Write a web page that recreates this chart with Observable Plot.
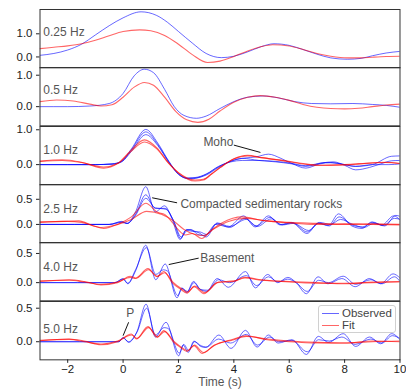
<!DOCTYPE html>
<html><head><meta charset="utf-8">
<script src="https://cdn.jsdelivr.net/npm/d3@7"></script>
<script src="https://cdn.jsdelivr.net/npm/@observablehq/plot@0.6"></script>
<style>
body{margin:0;background:#fff;}
#chart{position:relative;width:406px;height:391px;font-family:"Liberation Sans",Arial,sans-serif;background:#fff;}
#chart svg{position:absolute;left:0;overflow:visible;background:transparent;}
.legend{position:absolute;left:318px;top:305px;width:76px;height:26px;border:1px solid #d0d0d0;border-radius:3px;background:rgba(255,255,255,0.85);font-size:11.5px;color:#444;}
.legend .sw{position:absolute;left:3px;width:17px;height:1px;}
.legend .lb{position:absolute;left:23px;line-height:10.5px;height:10.5px;}
</style></head><body>
<div id="chart"></div>
<script>
// ---- data: [time (s), amplitude] pairs ----
const obs025 = [[-3,0.07],[-2.5,0.15],[-2,0.3],[-1.5,0.55],[-1,0.95],[-0.5,1.35],[0,1.69],[0.65,1.95],[1.2,1.8],[1.6,1.5],[2,1.1],[2.5,0.6],[3,0.15],[3.55,-0.03],[4,0.03],[4.5,0.22],[5,0.45],[5.45,0.57],[6,0.5],[6.5,0.32],[7,0.12],[7.5,-0.04],[8.1,-0.1],[8.6,-0.06],[9,0.05],[9.5,0.17],[10,0.24]];
const fit025 = [[-3,0.36],[-2.5,0.42],[-2,0.48],[-1.5,0.57],[-1,0.72],[-0.5,0.92],[0,1.1],[0.6,1.17],[1,1.13],[1.5,0.93],[2,0.55],[2.5,0.1],[3.05,-0.24],[3.5,-0.18],[4,0.02],[4.5,0.26],[5,0.45],[5.4,0.53],[6,0.47],[6.5,0.32],[7,0.15],[7.5,0.03],[8.1,-0.04],[8.6,-0.04],[9,-0.01],[9.5,0.02],[10,0.03]];

const obs05 = [[-3,0],[-2,0],[-1.2,0.02],[-0.5,0.1],[0,0.42],[0.4,0.98],[0.77,1.19],[1.1,1.08],[1.5,0.55],[1.85,0.0],[2.2,-0.28],[2.65,-0.37],[3,-0.3],[3.5,-0.06],[4,0.16],[4.5,0.3],[5.05,0.34],[5.6,0.28],[6.2,0.16],[6.8,0.1],[7.5,0.09],[8.3,0.1],[9,0.07],[9.5,0.04],[10,-0.02]];
const fit05 = [[-3,0.16],[-2.4,0.21],[-1.8,0.18],[-1.2,0.08],[-0.8,0.02],[-0.4,0.06],[0,0.3],[0.4,0.62],[0.77,0.77],[1.1,0.68],[1.5,0.3],[1.9,-0.15],[2.3,-0.42],[2.7,-0.5],[3.1,-0.4],[3.5,-0.14],[4,0.14],[4.5,0.3],[4.95,0.35],[5.5,0.3],[6,0.2],[6.5,0.07],[7,-0.02],[7.5,-0.06],[8,-0.07],[8.5,-0.05],[9,0.0],[9.5,0.05],[10,0.08]];

const obs10a = [[-3,0],[-1,0],[-0.4,0.02],[-0.05,0.1],[0.3,0.45],[0.82,1.01],[1.25,0.62],[1.65,0.1],[2.0,-0.27],[2.4,-0.41],[2.7,-0.38],[3.0,-0.3],[3.45,-0.08],[3.9,0.1],[4.4,0.19],[4.8,0.22],[5.25,0.3],[5.7,0.18],[6.1,0.03],[6.6,-0.1],[7.1,0.02],[7.5,0.06],[8.0,0.0],[8.4,-0.05],[9.0,0.0],[9.7,0.24],[10,0.25]];
const obs10b = [[-3,0],[-1,0],[-0.4,0.02],[-0.05,0.09],[0.3,0.42],[0.82,0.94],[1.25,0.58],[1.65,0.08],[2.0,-0.28],[2.35,-0.4],[2.65,-0.38],[3.0,-0.28],[3.45,-0.06],[3.9,0.1],[4.3,0.18],[4.9,0.12],[5.5,0.08],[6.1,0.02],[6.6,-0.05],[7.2,0.05],[7.6,0.08],[8.0,-0.02],[8.4,-0.15],[8.9,-0.08],[9.3,0.02],[9.7,0.11],[10,0.12]];
const obs10c = [[-3,0],[-1,0],[-0.4,0.01],[-0.05,0.08],[0.3,0.38],[0.82,0.86],[1.25,0.55],[1.65,0.07],[2.0,-0.27],[2.3,-0.38],[2.6,-0.37],[3.0,-0.27],[3.45,-0.05],[3.9,0.08],[4.3,0.12],[4.8,0.12],[5.4,0.1],[6.0,0.05],[6.6,-0.03],[7.3,0.06],[7.8,0.03],[8.4,-0.05],[9.0,0.0],[9.6,0.0],[10,0.02]];
const fit10a = [[-3,0.1],[-2.2,0.14],[-1.5,0.07],[-0.7,-0.1],[-0.2,0.03],[0.25,0.38],[0.77,0.71],[1.22,0.48],[1.64,0.05],[2.0,-0.24],[2.6,-0.47],[2.9,-0.44],[3.2,-0.27],[3.52,-0.08],[4.0,0.17],[4.5,0.27],[5.0,0.2],[5.86,0.11],[6.5,0.03],[7.06,-0.02],[8.0,-0.01],[8.5,0.02],[9.47,0.07],[10,0.03]];
const fit10b = [[-3,0.09],[-2.2,0.12],[-1.5,0.06],[-0.7,-0.07],[-0.2,0.03],[0.25,0.35],[0.77,0.65],[1.22,0.45],[1.64,0.04],[2.0,-0.23],[2.6,-0.44],[2.9,-0.42],[3.2,-0.26],[3.52,-0.07],[4.0,0.16],[4.5,0.25],[5.0,0.2],[5.86,0.1],[6.5,0.02],[7.06,-0.02],[8.0,0.0],[8.5,0.02],[9.47,0.06],[10,0.03]];

const obs25a = [[-3,0],[-0.5,0],[-0.05,0.06],[0.15,0.02],[0.45,0.25],[0.82,0.75],[1.16,0.25],[1.5,0.37],[1.76,0.12],[2.06,-0.3],[2.25,-0.12],[2.45,-0.1],[2.7,-0.2],[2.95,-0.22],[3.35,0.0],[3.8,-0.05],[4.35,0.17],[4.77,-0.05],[5.25,0.17],[5.67,-0.01],[6.1,0.03],[6.64,-0.18],[7.06,0.03],[7.42,-0.02],[7.78,0.21],[8.26,-0.03],[8.63,-0.08],[8.99,0.05],[9.35,-0.01],[9.77,0.17],[10,0.09]];
const obs25b = [[-3,0],[-0.5,0],[-0.05,0.05],[0.15,0.02],[0.45,0.2],[0.82,0.59],[1.16,0.32],[1.52,0.32],[1.8,0.1],[2.08,-0.28],[2.3,-0.1],[2.5,-0.12],[2.75,-0.17],[3.0,-0.25],[3.4,0.02],[3.85,-0.06],[4.4,0.12],[4.8,-0.03],[5.3,0.14],[5.7,0.0],[6.1,0.04],[6.65,-0.15],[7.05,0.02],[7.45,-0.03],[7.8,0.15],[8.3,-0.02],[8.65,-0.05],[9.0,0.04],[9.4,-0.02],[9.8,0.12],[10,0.1]];
const obs25c = [[-3,0],[-0.5,0],[-0.05,0.04],[0.15,0.02],[0.45,0.18],[0.82,0.52],[1.16,0.33],[1.55,0.3],[1.82,0.08],[2.1,-0.25],[2.32,-0.12],[2.52,-0.14],[2.78,-0.15],[3.02,-0.2],[3.4,0.03],[3.85,-0.04],[4.45,0.1],[4.85,-0.04],[5.35,0.11],[5.75,-0.01],[6.15,0.02],[6.7,-0.12],[7.1,0.04],[7.5,0.0],[7.85,0.1],[8.3,0.0],[8.7,-0.06],[9.05,0.02],[9.45,-0.03],[9.85,0.18],[10,0.16]];
const fit25a = [[-3,0.05],[-2.2,0.06],[-1.6,0.07],[-1.1,-0.02],[-0.7,-0.08],[-0.2,0.0],[0.3,0.15],[0.82,0.42],[1.25,0.24],[1.5,0.2],[1.76,0.05],[2.0,-0.11],[2.25,-0.21],[2.5,-0.18],[2.84,-0.28],[3.2,-0.11],[3.6,0.04],[4.3,0.15],[5.0,0.08],[6.0,0.04],[7.0,0.02],[8,0.0],[9,0.01],[10,0.0]];
const fit25b = [[-3,0.04],[-2.0,0.06],[-1.5,0.04],[-0.8,-0.06],[-0.2,0.0],[0.3,0.1],[0.85,0.26],[1.4,0.2],[1.8,0.08],[2.2,-0.1],[2.6,-0.2],[2.9,-0.22],[3.3,-0.08],[3.8,0.06],[4.4,0.12],[5.2,0.07],[6,0.03],[7,0.0],[8,0.01],[9,0.0],[10,-0.01]];

const obs40a = [[-3,0],[-0.3,0],[0.0,0.07],[0.17,-0.02],[0.45,0.2],[0.82,0.64],[1.18,0.05],[1.52,0.32],[1.95,-0.26],[2.12,-0.09],[2.3,-0.17],[2.54,0.02],[2.78,-0.11],[3.02,-0.15],[3.4,0.07],[3.8,-0.08],[4.42,0.19],[4.78,-0.09],[5.22,0.14],[5.58,0.0],[5.95,0.09],[6.25,0.0],[6.62,-0.19],[7.04,0.1],[7.4,-0.02],[7.9,0.07],[8.38,-0.07],[8.9,0.07],[9.3,-0.02],[9.75,0.15],[10,0.08]];
const obs40b = [[-3,0],[-0.3,0],[0.0,0.06],[0.17,-0.01],[0.45,0.22],[0.84,0.6],[1.18,0.14],[1.45,0.22],[1.6,0.2],[1.97,-0.22],[2.14,-0.1],[2.32,-0.15],[2.56,0.0],[2.8,-0.12],[3.05,-0.13],[3.45,0.05],[3.85,0.0],[4.45,0.12],[4.82,-0.05],[5.25,0.1],[5.6,0.01],[5.95,0.06],[6.25,0.0],[6.65,-0.15],[7.06,0.04],[7.42,0.0],[7.95,0.11],[8.4,-0.03],[8.95,0.05],[9.35,-0.02],[9.8,0.1],[10,0.02]];
const fit40a = [[-3,0.02],[-1.95,0.05],[-1.4,0.02],[-0.8,-0.04],[-0.2,0.0],[0.26,0.11],[0.45,0.08],[0.9,0.24],[1.23,0.1],[1.47,0.19],[1.77,0.0],[2.07,-0.11],[2.31,-0.18],[2.56,-0.07],[2.92,-0.19],[3.4,0.0],[4.0,0.02],[4.38,0.09],[5.0,0.05],[6.0,0.01],[7,-0.01],[8,-0.01],[9,0.0],[10,0.01]];
const fit40b = [[-3,0.03],[-1.95,0.04],[-1.4,0.01],[-0.8,-0.03],[-0.2,0.01],[0.26,0.09],[0.45,0.07],[0.92,0.22],[1.23,0.11],[1.5,0.17],[1.8,0.01],[2.1,-0.1],[2.33,-0.16],[2.58,-0.06],[2.95,-0.17],[3.45,0.01],[4.0,0.03],[4.42,0.08],[5.0,0.04],[6.0,0.02],[7,0.0],[8,-0.02],[9,0.01],[10,0.02]];

const obs50a = [[-3,0],[-0.15,0],[0.0,0.065],[0.2,-0.01],[0.5,0.15],[0.83,0.56],[1.17,0.07],[1.55,0.29],[2.01,-0.21],[2.17,-0.05],[2.35,-0.16],[2.56,0.01],[2.8,-0.07],[2.98,-0.085],[3.46,0.1],[3.9,-0.1],[4.42,0.17],[4.84,-0.08],[5.25,0.1],[5.6,-0.02],[6.1,0.03],[6.62,-0.19],[7.05,0.08],[7.42,-0.01],[7.95,0.12],[8.4,-0.07],[8.9,0.07],[9.3,-0.03],[9.7,0.12],[10,0.03]];
const obs50b = [[-3,0],[-0.15,0],[0.0,0.055],[0.2,0.0],[0.5,0.14],[0.85,0.5],[1.17,0.1],[1.48,0.21],[1.62,0.2],[2.03,-0.17],[2.19,-0.04],[2.37,-0.13],[2.58,0.0],[2.82,-0.06],[3.0,-0.08],[3.45,0.04],[3.88,-0.02],[4.45,0.11],[4.85,-0.05],[5.3,0.07],[5.62,0.0],[6.1,0.02],[6.65,-0.15],[7.06,0.03],[7.45,0.01],[7.9,0.07],[8.38,-0.04],[8.95,0.04],[9.35,-0.02],[9.72,0.09],[10,0.05]];
const fit50a = [[-3,0.015],[-1.95,0.04],[-1.4,0.01],[-0.8,-0.045],[-0.2,0.0],[0.3,0.115],[0.48,0.04],[0.9,0.225],[1.23,0.065],[1.47,0.165],[1.83,-0.01],[2.07,-0.085],[2.31,-0.145],[2.56,-0.06],[2.86,-0.175],[3.28,-0.06],[4.0,0.04],[4.42,0.09],[5.2,0.03],[6,0.0],[7,-0.02],[8,-0.02],[9,0.0],[10,0.01]];
const fit50b = [[-3,0.02],[-1.95,0.035],[-1.4,0.0],[-0.8,-0.035],[-0.2,0.01],[0.32,0.1],[0.5,0.05],[0.92,0.21],[1.25,0.075],[1.5,0.15],[1.85,0.0],[2.1,-0.08],[2.33,-0.13],[2.58,-0.05],[2.9,-0.16],[3.3,-0.05],[4.0,0.03],[4.45,0.08],[5.2,0.04],[6,0.01],[7,-0.01],[8,-0.02],[9,0.01],[10,0.0]];

const bandLabels = ["0.25 Hz","0.5 Hz","1.0 Hz","2.5 Hz","4.0 Hz","5.0 Hz"];
const yTickValues = [[0,1],[0,1],[0,1],[0,0.5],[0,0.5],[0,0.5]];
const xTickValues = [-2,0,2,4,6,8,10];
const legendLabels = ["Observed","Fit"];
const notes = [
  {panel:2, text:"Moho", tx:2.9, ty:0.64, x1:4.0, y1:0.56, x2:4.96, y2:0.35},
  {panel:3, text:"Compacted sedimentary rocks", tx:2.07, ty:0.41, x1:1.95, y1:0.43, x2:1.05, y2:0.53},
  {panel:4, text:"Basement", tx:2.79, ty:0.42, x1:2.73, y1:0.42, x2:1.65, y2:0.31},
  {panel:5, text:"P", tx:0.26, ty:0.42, x1:0.2, y1:0.29, x2:0.0, y2:0.09, anchor:"middle"}
];

// ---- layout ----
const panels = [
  {obs:[obs025], fit:[fit025], y:[-0.47,2.05], ly:1.07},
  {obs:[obs05], fit:[fit05], y:[-0.61,1.245], ly:0.53},
  {obs:[obs10a,obs10b,obs10c], fit:[fit10a,fit10b], y:[-0.58,1.094], ly:0.42},
  {obs:[obs25a,obs25b,obs25c], fit:[fit25a,fit25b], y:[-0.366,0.794], ly:0.31},
  {obs:[obs40a,obs40b], fit:[fit40a,fit40b], y:[-0.312,0.688], ly:0.26},
  {obs:[obs50a,obs50b], fit:[fit50a,fit50b], y:[-0.27,0.60], ly:0.19}
];
const chart = document.getElementById("chart");
const top0 = 9, ph = 58.33;
const toRows = (traces, k) => traces.flatMap((tr, j) => tr.map(([t, v]) => ({t, v, s: k + j})));
const minus = d => d < 0 ? "\u2212" + (-d) : String(d);

panels.forEach((p, i) => {
  const last = i === panels.length - 1;
  const mt = 1, mb = last ? 33 : 1;
  const marks = [
    Plot.line(toRows(p.obs, "o"), {x: "t", y: "v", z: "s", stroke: "blue", strokeOpacity: 0.6, strokeWidth: 1, curve: "monotone-x", clip: true}),
    Plot.line(toRows(p.fit, "f"), {x: "t", y: "v", z: "s", stroke: "red", strokeOpacity: 0.6, strokeWidth: 1.1, curve: "monotone-x", clip: true}),
    Plot.axisY(yTickValues[i], {tickSize: 3.5, tickPadding: 4, tickFormat: d3.format(".1f"), fontSize: 11.5, label: null, fill: "#222", stroke: "#222"}),
    Plot.text([{t: -2.88, v: p.ly, s: bandLabels[i]}], {x: "t", y: "v", text: "s", textAnchor: "start", fontSize: 12, fill: "#555"}),
    Plot.frame({stroke: "#333", strokeWidth: 1})
  ];
  notes.filter(n => n.panel === i).forEach(n => {
    marks.push(Plot.link([n], {x1: "x1", y1: "y1", x2: "x2", y2: "y2", stroke: "#111", strokeWidth: 1}));
    marks.push(Plot.text([n], {x: "tx", y: "ty", text: "text", textAnchor: n.anchor || "start", fontSize: 12, fill: "#555"}));
  });
  if (last) {
    marks.push(Plot.axisX(xTickValues, {tickSize: 3.5, tickPadding: 1.5, tickFormat: minus, fontSize: 11.5, label: null, fill: "#222", stroke: "#222"}));
    marks.push(Plot.text(["Time (s)"], {frameAnchor: "bottom", dy: 26, fontSize: 12, fill: "#555"}));
  }
  const svg = Plot.plot({
    width: 406, height: ph + mt + mb,
    marginLeft: 39.5, marginRight: 6.5, marginTop: mt, marginBottom: mb,
    x: {domain: [-3, 10], axis: last ? undefined : null},
    y: {domain: p.y},
    style: {fontFamily: "'Liberation Sans', Arial, sans-serif", fontSize: "12px", background: "transparent", overflow: "visible"},
    marks
  });
  svg.style.top = (top0 + i * ph - mt) + "px";
  chart.appendChild(svg);
});

// legend
const lg = document.createElement("div");
lg.className = "legend";
const lcol = ["rgba(0,0,255,0.6)", "rgba(255,0,0,0.6)"];
legendLabels.forEach((l, j) => {
  const sw = document.createElement("div");
  sw.className = "sw"; sw.style.top = (7 + j * 11.5) + "px"; sw.style.background = lcol[j];
  const lb = document.createElement("div");
  lb.className = "lb"; lb.style.top = (2 + j * 11.5) + "px"; lb.textContent = l;
  lg.appendChild(sw); lg.appendChild(lb);
});
chart.appendChild(lg);
</script>
</body></html>
